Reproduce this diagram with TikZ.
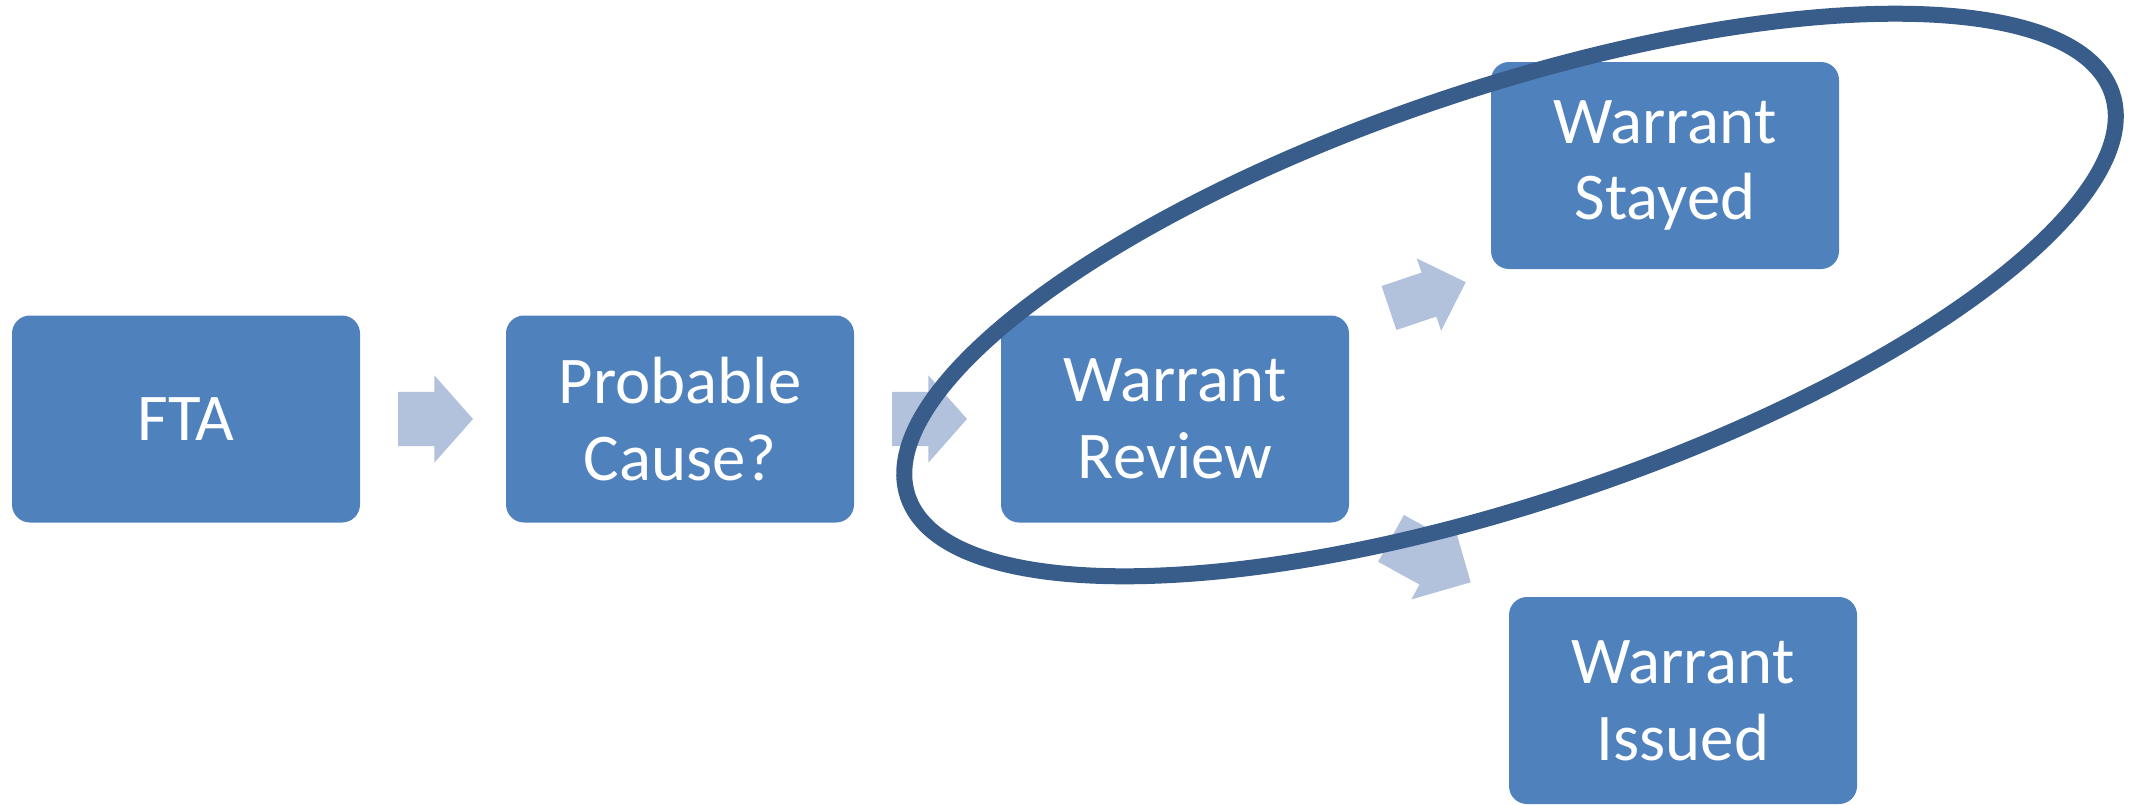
\documentclass[tikz,border=0pt]{standalone}
\usepackage{fontspec}
\newfontfamily\boxfont{Carlito}
\usetikzlibrary{positioning,calc,shapes.arrows}
\definecolor{boxblue}{RGB}{79,129,189}
\definecolor{arrowblue}{RGB}{178,193,220}
\definecolor{ringblue}{RGB}{56,93,138}
\tikzset{
  stepbox/.style={fill=boxblue,rounded corners=0.18cm,minimum width=3.48cm,minimum height=2.07cm,inner sep=0pt,outer sep=0pt,text=white,align=center,font=\boxfont\fontsize{19}{21.8}\selectfont},
  flowarrow/.style={single arrow,fill=arrowblue,inner xsep=0pt,outer sep=0pt,minimum width=0pt,single arrow head indent=0cm,anchor=tail}
}

\begin{document}
\begin{tikzpicture}
\useasboundingbox (0,0) rectangle (21.31,8.04);
\node[stepbox] (fta) at (1.86,3.85) {FTA};
\node[stepbox,right=1.46cm of fta] (cause) {Probable\\Cause?};
\node[stepbox,right=1.47cm of cause] (review) {Warrant\\Review};
\node[stepbox] (stayed) at (16.65,6.385) {Warrant\\Stayed};
\node[stepbox] (issued) at (16.83,1.035) {Warrant\\Issued};
\node[flowarrow,minimum height=0.75cm,inner ysep=0.265cm,single arrow head extend=0.165cm,single arrow tip angle=97] (arrow1) at ($(fta.east)+(0.38,0)$) {};
\node[flowarrow,minimum height=0.75cm,inner ysep=0.265cm,single arrow head extend=0.165cm,single arrow tip angle=97] (arrow2) at ($(cause.east)+(0.38,0)$) {};
\node[flowarrow,minimum height=0.81cm,inner ysep=0.225cm,single arrow head extend=0.15cm,single arrow tip angle=89,rotate=18.6] (arrow3) at ($(review.north east)+(0.40,0.075)$) {};
\node[flowarrow,minimum height=0.91cm,inner ysep=0.26cm,single arrow head extend=0.17cm,single arrow tip angle=90,rotate=-28.9] (arrow4) at ($(review.south east)+(0.42,-0.158)$) {};
\draw[ringblue,line width=0.16cm,rotate around={18.5:(15.1,5.09)}] (15.1,5.09) ellipse (6.35cm and 2.07cm);
\end{tikzpicture}
\end{document}
